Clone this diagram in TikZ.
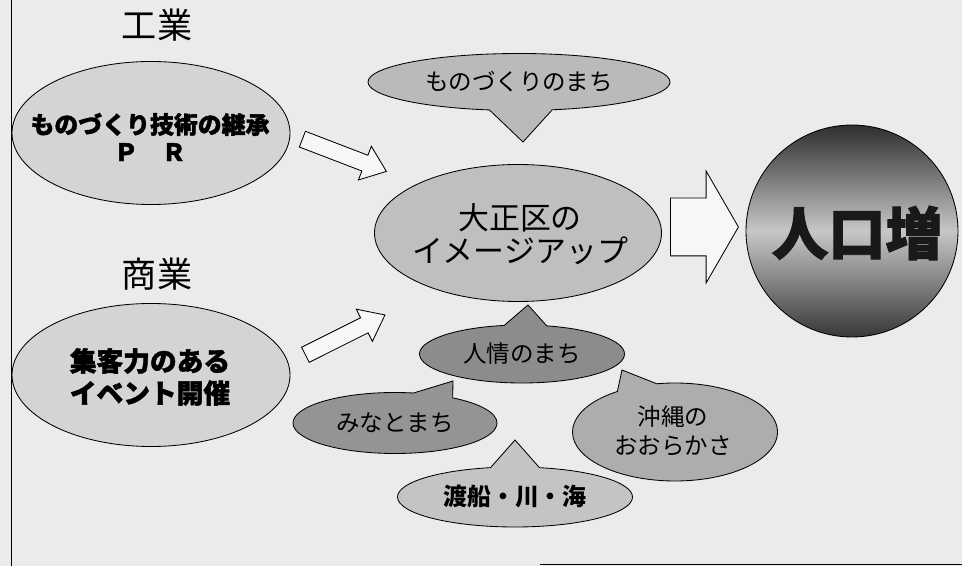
\documentclass[tikz,border=0pt]{standalone}
\usepackage{fontspec}
\setmainfont{Noto Sans CJK JP}
\newfontfamily\heavyfont[FakeBold=1.6]{Noto Sans CJK JP}
\usetikzlibrary{shapes.geometric,shapes.callouts,shapes.arrows}

\tikzset{
  oval/.style={ellipse, draw=black, line width=0.6pt, inner sep=0pt},
  bubble/.style={ellipse callout, draw=black, line width=0.6pt, inner sep=0pt, callout pointer arc=24},
  hollow/.style={single arrow, draw=black, line width=0.6pt, fill=black!3, inner xsep=0pt,
    inner ysep=2mm, minimum height=22.5mm, single arrow head extend=2.4mm,
    single arrow tip angle=76, anchor=tail},
  heading/.style={font=\fontsize{25}{28}\selectfont},
  boldtxt/.style={align=center, font=\heavyfont\bfseries\fontsize{17}{19.5}\selectfont},
  plaintxt/.style={align=center, font=\fontsize{16.7}{20.6}\selectfont}
}

\begin{document}
\begin{tikzpicture}[x=0.25mm,y=0.25mm]
\useasboundingbox (0,0) rectangle (962,-566);
\fill [black!8] (0,0) rectangle (962,-566);
\draw [line width=1.2pt] (11.5,0) -- (11.5,-566);
\draw [line width=1.2pt] (540,-564.5) -- (962,-564.5);

% left side
\node [heading] (industry) at (157,-25) {工業};
\node [oval, fill=black!17, minimum width=69.5mm, minimum height=35.75mm] (craft) at (151,-133) {};
\node [boldtxt] (craft-txt) at (150,-137) {ものづくり技術の継承\\Ｐ　Ｒ};
\node [heading] (commerce) at (157,-274) {商業};
\node [oval, fill=black!17, minimum width=69.5mm, minimum height=35.75mm] (event) at (151,-375) {};
\node [boldtxt, font=\heavyfont\bfseries\fontsize{19}{22.8}\selectfont] (event-txt) at (150,-377) {集客力のある\\イベント開催};

% centre
\node [oval, fill=black!25, minimum width=71.75mm, minimum height=34.25mm] (image) at (518,-233) {};
\node [plaintxt, font=\fontsize{22}{23.5}\selectfont] (image-txt) at (520,-234) {大正区の\\イメージアップ};
\node [hollow, rotate=-21] (arr-craft) at (302,-139) {};
\node [hollow, rotate=26.6, minimum height=22.25mm] (arr-event) at (305,-355) {};

% callouts
\coordinate (tip-craft) at (523,-142);
\coordinate (tip-ninjo) at (528,-305);
\coordinate (tip-minato) at (453,-381);
\coordinate (tip-okinawa) at (622,-370);
\coordinate (tip-tosen) at (515,-440);
\node [bubble, fill=black!27, minimum width=75.5mm, minimum height=14.25mm,
  callout absolute pointer={(tip-craft)}] (town-craft) at (519,-82) {};
\node [plaintxt] at (town-craft) {ものづくりのまち};
\node [bubble, fill=black!45, minimum width=51.25mm, minimum height=14.5mm,
  callout absolute pointer={(tip-ninjo)}] (ninjo) at (522,-354) {};
\node [plaintxt] at (ninjo) {人情のまち};
\node [bubble, fill=black!42, minimum width=51mm, minimum height=15.25mm,
  callout absolute pointer={(tip-minato)}] (minato) at (395,-423) {};
\node [plaintxt] at (minato) {みなとまち};
\node [bubble, fill=black!32, minimum width=51.25mm, minimum height=24.5mm,
  callout absolute pointer={(tip-okinawa)}] (okinawa) at (675,-432) {};
\node [plaintxt] at (673,-431) {沖縄の\\おおらかさ};
\node [bubble, fill=black!23, minimum width=58.75mm, minimum height=15mm,
  callout absolute pointer={(tip-tosen)}] (tosen) at (515,-497) {};
\node [plaintxt, font=\bfseries\fontsize{17}{20}\selectfont] at (tosen) {渡船・川・海};

% result
\node [hollow, minimum height=17mm, inner ysep=7.125mm, single arrow head extend=6.75mm,
  single arrow tip angle=120] (arr-pop) at (670,-227) {};
\node [circle, draw=black, line width=0.6pt, minimum size=53mm, inner sep=0pt,
  top color=black!82, bottom color=black!78, middle color=black!22] (pop) at (852,-231) {};
\node [font=\heavyfont\bfseries\fontsize{40.5}{44}\selectfont, text=black!90] at (857,-233) {人口増};
\end{tikzpicture}
\end{document}
